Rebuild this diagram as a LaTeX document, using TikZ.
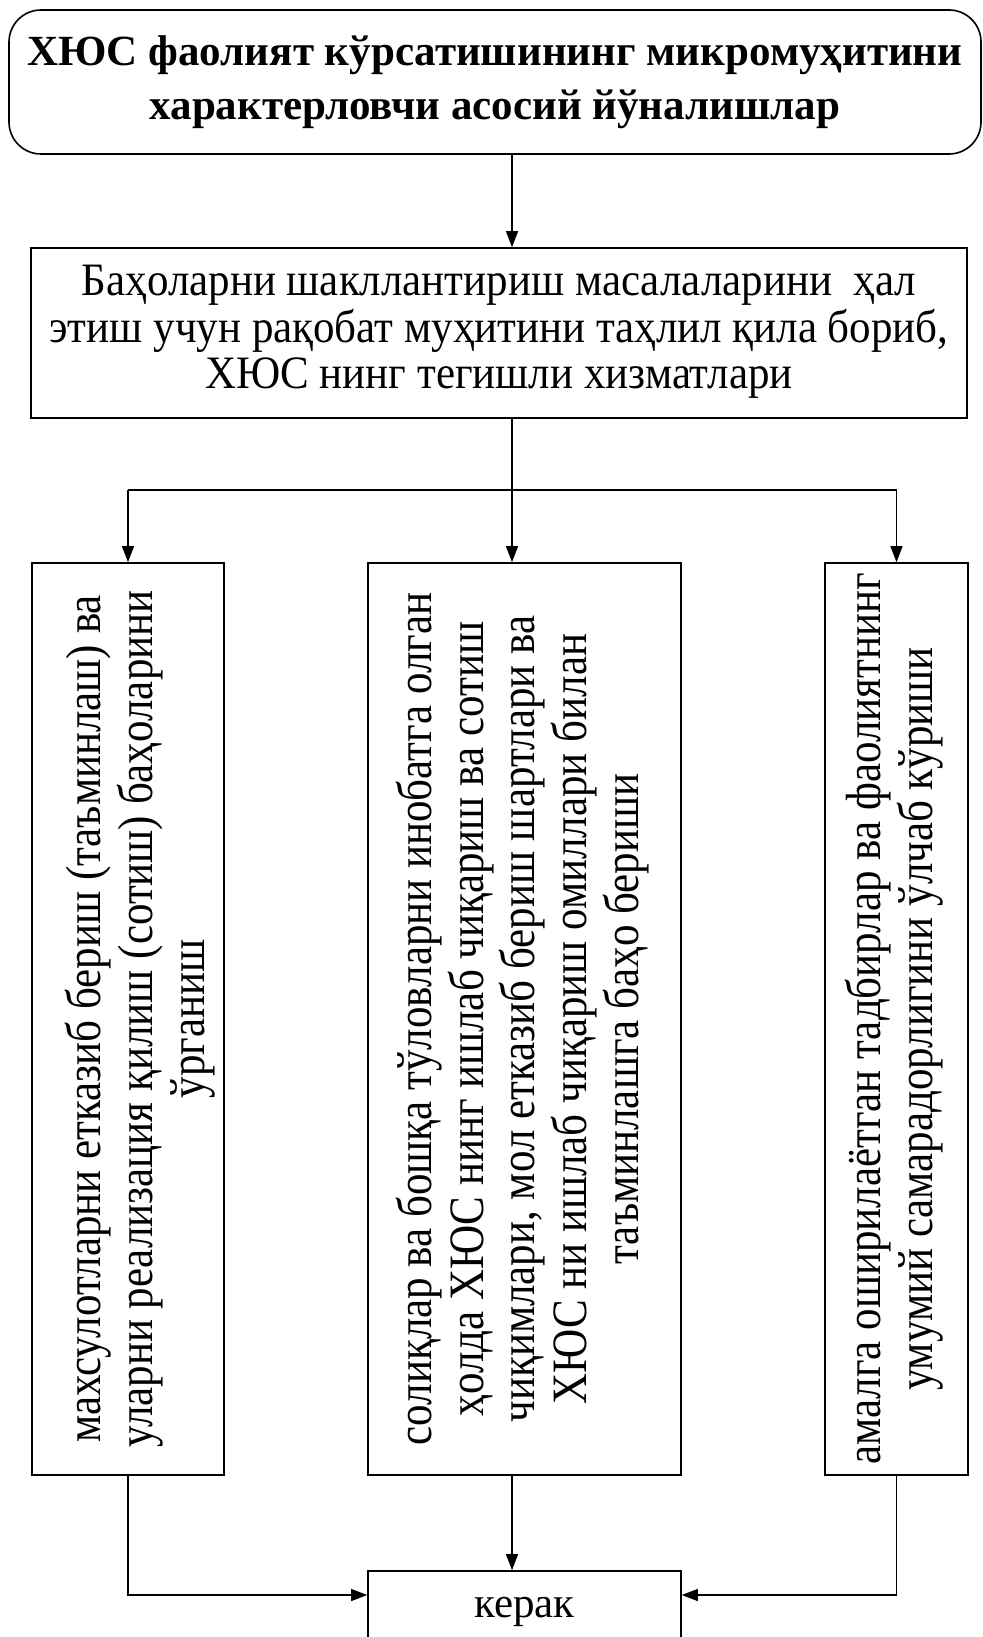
\documentclass[tikz,border=0pt]{standalone}
\usepackage{fontspec}
\setmainfont{Liberation Serif}
\usetikzlibrary{arrows.meta, positioning}

% rotated text, read from bottom to top
\newcommand{\vtext}[1]{\rotatebox{90}{\scalebox{1}[1.15]{\fontsize{43}{45}\selectfont\begin{tabular}{@{}c@{}}#1\end{tabular}}}}

\begin{document}
\begin{tikzpicture}[
		x=1pt, y=-1pt,
		font=\fontsize{43}{42}\selectfont,
		box/.style={draw, line width=1.6pt, inner sep=0pt, align=center},
		arr/.style={-{Triangle[length=16pt, width=12pt]}, line width=1.1pt},
		ln/.style={line width=1.1pt}
		]
		
		% Frame
		\clip (0,0) rectangle (982,1637);
		
		% Heading
		\node[box, rounded corners=32pt, minimum width=972pt, minimum height=144pt,
		font=\fontsize{43}{54}\selectfont\bfseries] (head) at (495,82)
		{ХЮС фаолият кўрсатишининг микромуҳитини\\характерловчи асосий йўналишлар};
		
		% Task
		\node[box, minimum width=936pt, minimum height=170pt] (task) at (499,333)
		{\scalebox{1}[1.08]{\begin{tabular}{@{}c@{}}Баҳоларни шакллантириш масалаларини \ ҳал\\
			этиш учун рақобат муҳитини таҳлил қила бориб,\\
			ХЮС нинг тегишли хизматлари\end{tabular}}};
		
		% Directions
		\node[box, minimum width=192pt, minimum height=912pt] (left) at (128,1019)
		{\hspace*{28pt}\vtext{махсулотларни етказиб бериш (таъминлаш) ва\\
				уларни реализация қилиш (сотиш) баҳоларини\\
				ўрганиш}};
		\node[box, minimum width=313pt, minimum height=912pt] (mid) at (524.5,1019)
		{\vtext{солиқлар ва бошқа тўловларни инобатга олган\\
				ҳолда ХЮС нинг ишлаб чиқариш ва сотиш\\
				чиқимлари, мол етказиб бериш шартлари ва\\
				ХЮС ни ишлаб чиқариш омиллари билан\\
				таъминлашга баҳо бериши}};
		\node[box, minimum width=143pt, minimum height=912pt] (right) at (896.5,1019)
		{\vtext{амалга оширилаётган тадбирлар ва фаолиятнинг\\
				умумий самарадорлигини ўлчаб кўриши}};
		
		% Result
		\node[box, minimum width=313pt, minimum height=82pt] (need) at (524.5,1612) {керак};
		
		% Connectors
		\coordinate (spine) at (512,0);
		\coordinate (fork) at (0,490);
		\coordinate (join) at (0,1595);
		\draw[arr] (head.south -| spine) -- (task.north -| spine);
		\draw[arr] (task.south -| spine) -- (mid.north -| spine);
		\draw[ln] (left.north |- fork) -- (right.north |- fork);
		\draw[arr] (left.north |- fork) -- (left.north);
		\draw[arr] (right.north |- fork) -- (right.north);
		\draw[arr] (mid.south -| spine) -- (need.north -| spine);
		\draw[arr] (left.south) |- (need.west |- join);
		\draw[arr] (right.south) |- (need.east |- join);
		
	\end{tikzpicture}
\end{document}
